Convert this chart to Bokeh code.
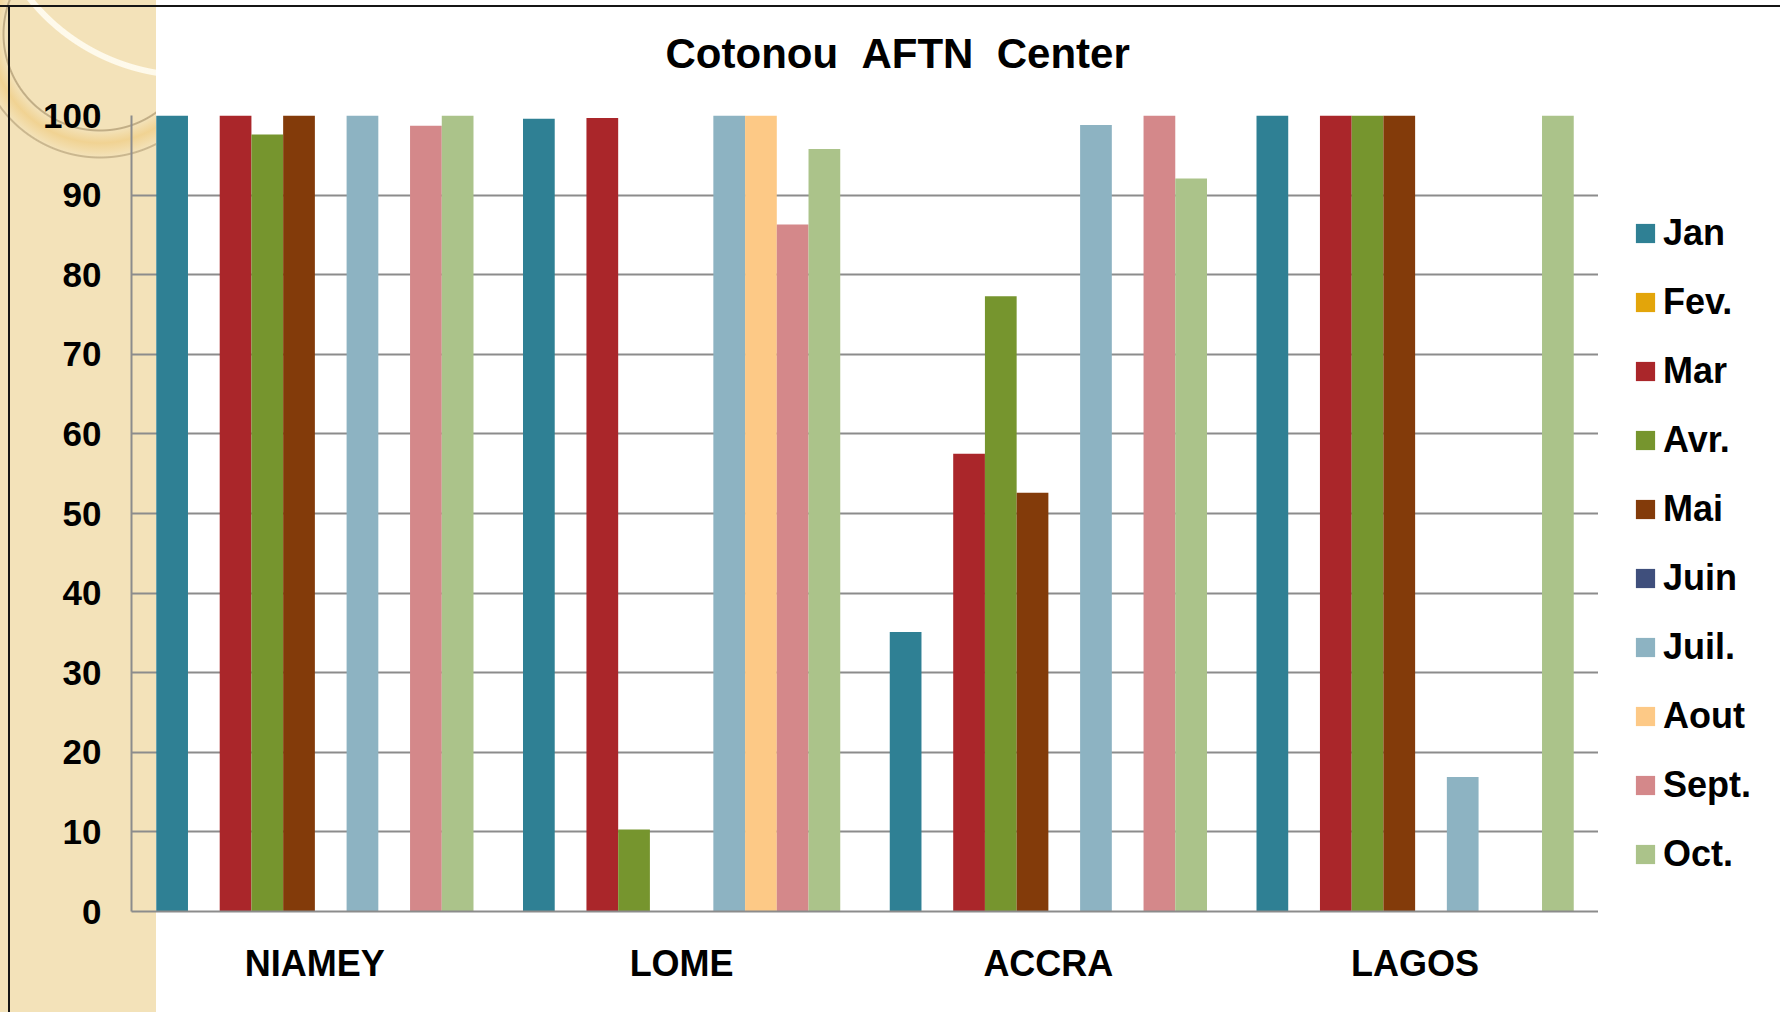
from bokeh.plotting import figure
from bokeh.layouts import row
from bokeh.models import (Range1d, FactorRange, ColumnDataSource, FixedTicker,
                          Legend, LegendItem, Title)
from bokeh.transform import dodge
from bokeh.embed import file_html
from bokeh.resources import INLINE

# ---------------- data ----------------
cities = ["NIAMEY", "LOME", "ACCRA", "LAGOS"]
months = ["Jan", "Fev.", "Mar", "Avr.", "Mai", "Juin", "Juil.", "Aout", "Sept.", "Oct."]
jan = [100, 99.6, 35.1, 100]
fev = [0, 0, 0, 0]
mar = [100, 99.7, 57.5, 100]
avr = [97.6, 10.3, 77.3, 100]
mai = [100, 0, 52.6, 100]
juin = [0, 0, 0, 0]
juil = [100, 100, 98.8, 16.9]
aout = [0, 100, 0, 0]
sept = [98.7, 86.3, 100, 0]
octo = [100, 95.8, 92.1, 100]
y_ticks = [0, 10, 20, 30, 40, 50, 60, 70, 80, 90, 100]
title_text = "Cotonou \u00a0AFTN \u00a0Center"

colors = ["#2F8094", "#E3A50A", "#AA262A", "#76952E", "#833B0A",
          "#3F4F7C", "#8DB3C2", "#FDC986", "#D4888A", "#ABC38A"]

series = [jan, fev, mar, avr, mai, juin, juil, aout, sept, octo]
keys = ["m%d" % i for i in range(len(months))]
data = {"city": cities}
for k, s in zip(keys, series):
    data[k] = s
source = ColumnDataSource(data)

FONT = "Liberation Sans"
GRID = "#8C8C8C"
TOPLINE = "linear-gradient(#151515,#151515) 0 5px / 100% 2px no-repeat"

# ---------------- main chart ----------------
p = figure(width=1598, height=1012,
           x_range=FactorRange(*cities, range_padding=0, factor_padding=0),
           y_range=Range1d(0, 100),
           output_backend="svg", toolbar_location=None, tools="",
           min_border_left=131, min_border_right=0,
           min_border_top=115, min_border_bottom=101)

p.background_fill_color = None
p.border_fill_color = None
p.outline_line_color = None

# slide background: tan strip with decorative circles, black frame lines
bg_layers = [
    TOPLINE,
    "linear-gradient(#151515,#151515) 8px 5px / 2px 100% no-repeat",
    "radial-gradient(circle at 190px -130px, rgba(255,251,238,0) 202px, rgba(255,251,238,0.95) 203px, rgba(255,251,238,0.95) 208px, rgba(255,251,238,0) 209px) 0 0 / 156px 100% no-repeat",
    "radial-gradient(circle at 100px 34px, rgba(185,165,125,0) 95px, rgba(185,165,125,0.85) 96px, rgba(185,165,125,0.85) 97px, rgba(185,165,125,0) 98px) 0 0 / 156px 100% no-repeat",
    "radial-gradient(circle at 100px 34px, rgba(185,165,125,0) 122px, rgba(185,165,125,0.7) 123px, rgba(185,165,125,0.7) 124px, rgba(185,165,125,0) 125px) 0 0 / 156px 100% no-repeat",
    "radial-gradient(circle at 100px 34px, rgba(240,208,140,0) 97px, rgba(240,208,140,0.85) 109px, rgba(240,208,140,0) 123px) 0 0 / 156px 100% no-repeat",
    "linear-gradient(#F3E2B9,#F3E2B9) 0 0 / 156px 100% no-repeat",
    "#ffffff",
]
p.styles = {"background": ", ".join(bg_layers)}

bar_w = 0.0865
for i, (k, c) in enumerate(zip(keys, colors)):
    off = (i - 4.5) * bar_w
    p.vbar(x=dodge("city", off, range=p.x_range), top=k, bottom=0,
           width=bar_w, source=source, fill_color=c, line_color=None)

# grid
p.xgrid.grid_line_color = None
p.ygrid.grid_line_color = GRID
p.ygrid.grid_line_width = 2
p.ygrid.ticker = FixedTicker(ticks=y_ticks)

# y axis
ya = p.yaxis[0]
ya.ticker = FixedTicker(ticks=y_ticks)
ya.axis_line_color = GRID
ya.axis_line_width = 2
ya.major_tick_line_color = None
ya.minor_tick_line_color = None
ya.major_tick_out = 0
ya.major_tick_in = 0
ya.major_label_standoff = 30
ya.major_label_text_font = FONT
ya.major_label_text_font_style = "bold"
ya.major_label_text_font_size = "35px"
ya.major_label_text_color = "#000000"

# x axis
xa = p.xaxis[0]
xa.axis_line_color = GRID
xa.axis_line_width = 2
xa.major_tick_line_color = None
xa.minor_tick_line_color = None
xa.major_tick_out = 0
xa.major_tick_in = 0
xa.major_label_standoff = 31
xa.major_label_text_font = FONT
xa.major_label_text_font_style = "bold"
xa.major_label_text_font_size = "36px"
xa.major_label_text_color = "#000000"

# spacer between title and frame (keeps the title high on the page)
p.add_layout(Title(text="\u00a0", text_font_size="20px", standoff=10), "above")

# title
p.title = Title(text=title_text, align="left", offset=534, standoff=10,
                text_font=FONT, text_font_style="bold", text_font_size="42px",
                text_color="#000000")

# ---------------- legend strip ----------------
pl = figure(width=182, height=1012, x_range=Range1d(0, 1), y_range=Range1d(0, 1),
            output_backend="svg", toolbar_location=None, tools="",
            x_axis_location=None, y_axis_location=None,
            min_border=0, min_border_left=0, min_border_right=0,
            min_border_top=0, min_border_bottom=0)
pl.background_fill_color = None
pl.border_fill_color = None
pl.outline_line_color = None
pl.grid.visible = False
pl.styles = {"background": TOPLINE + ", #ffffff"}

# zero-height swatch renderers that only feed the legend
swatch = ColumnDataSource({"x": [0.0], "y": [0.0]})
legend_renderers = []
for c in colors:
    legend_renderers.append(pl.vbar(x="x", top="y", bottom="y", width=0.0, source=swatch,
                                    fill_color=c, line_color=None))

legend = Legend(items=[LegendItem(label=m, renderers=[r]) for m, r in zip(months, legend_renderers)],
                location=(35, 36), orientation="vertical",
                glyph_width=24, glyph_height=24, label_height=42, spacing=27,
                padding=0, margin=0, label_standoff=6,
                border_line_color=None, background_fill_color=None,
                label_text_font=FONT, label_text_font_style="bold",
                label_text_font_size="36px", label_text_color="#000000")
pl.add_layout(legend)

layout = row(p, pl, spacing=0)

open("out.html", "w").write(file_html(layout, INLINE))
